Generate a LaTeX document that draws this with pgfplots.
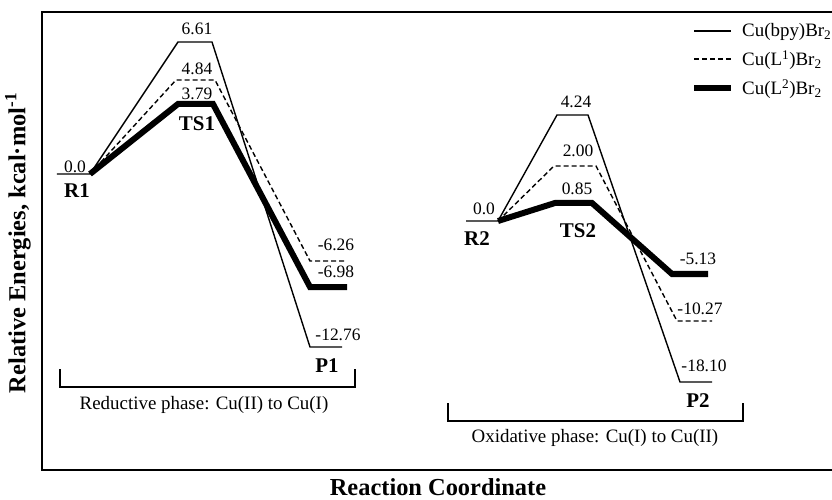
\documentclass[border=0pt]{standalone}
\usepackage{fontspec}
\setmainfont{Liberation Serif}
\usepackage{pgfplots}
\pgfplotsset{compat=1.18}
\newcommand{\numf}{\fontsize{17.5}{20}\selectfont}
\newcommand{\phf}{\fontsize{19}{22}\selectfont}
\newcommand{\legf}{\fontsize{19}{22}\selectfont}
\newcommand{\lblf}{\fontsize{21}{24}\selectfont\bfseries}
\newcommand{\axf}{\fontsize{24.5}{28}\selectfont\bfseries}
\begin{document}
\begin{tikzpicture}
\begin{axis}[
  scale only axis, width=790bp, height=458bp,
  xmin=0, xmax=790, ymin=0, ymax=458,
  axis line style={draw=none}, ticks=none, clip=false,
  legend style={at={(axis cs:649,446.5)}, anchor=north west, draw=none, fill=none,
    font=\legf, row sep=12.5bp, column sep=8bp, inner sep=0pt,
    nodes={inner sep=0bp}},
  legend cell align=left,
  legend image code/.code={\draw[#1] (0bp,0bp) -- (37bp,0bp);},
]
% Cu(bpy)Br2 (solid thin)
\addplot[black, line width=1.4bp] coordinates {(15,296) (48,296) (136,428) (170,428) (268,123) (300,123)};
\addlegendentry{Cu(bpy)Br\textsubscript{2}}
% Cu(L1)Br2 (dashed)
\addplot[black, line width=1.4bp, dash pattern=on 5bp off 3bp] coordinates {(48,296) (134,390) (173,390) (268,209) (303,209)};
\addlegendentry{Cu(L\textsuperscript{1})Br\textsubscript{2}}
% Cu(L2)Br2 (thick)
\addplot[black, line width=6bp] coordinates {(48,296) (136,366) (171,366) (268,183) (305,183)};
\addlegendentry{Cu(L\textsuperscript{2})Br\textsubscript{2}}
% right panel
\addplot[black, line width=1.4bp, forget plot] coordinates {(424,249) (456,249) (515,355) (546,355) (638,88) (670,88)};
\addplot[black, line width=1.4bp, dash pattern=on 5bp off 3bp, forget plot] coordinates {(456,249) (512,304) (554,304) (635,149) (670,149)};
\addplot[black, line width=6bp, forget plot] coordinates {(456,249) (513,267) (550,267) (630,196) (666,196)};

% frame
\draw[line width=2bp] (axis cs:790,458) -- (axis cs:0,458) -- (axis cs:0,0) -- (axis cs:790,0);
% brackets
\draw[line width=1.5bp] (axis cs:18,101) -- (axis cs:18,83) -- (axis cs:313,83) -- (axis cs:313,101);
\draw[line width=1.5bp] (axis cs:406,67) -- (axis cs:406,49) -- (axis cs:701,49) -- (axis cs:701,67);

% numbers
\node[anchor=base, inner sep=0pt, font=\numf] at (axis cs:33,297) {0.0};
\node[anchor=base, inner sep=0pt, font=\numf] at (axis cs:155,435) {6.61};
\node[anchor=base, inner sep=0pt, font=\numf] at (axis cs:155,395) {4.84};
\node[anchor=base, inner sep=0pt, font=\numf] at (axis cs:155,370) {3.79};
\node[anchor=base, inner sep=0pt, font=\numf] at (axis cs:294,219) {-6.26};
\node[anchor=base, inner sep=0pt, font=\numf] at (axis cs:294,193) {-6.98};
\node[anchor=base, inner sep=0pt, font=\numf] at (axis cs:296,130) {-12.76};
\node[anchor=base, inner sep=0pt, font=\numf] at (axis cs:442,255) {0.0};
\node[anchor=base, inner sep=0pt, font=\numf] at (axis cs:534,362) {4.24};
\node[anchor=base, inner sep=0pt, font=\numf] at (axis cs:536,313) {2.00};
\node[anchor=base, inner sep=0pt, font=\numf] at (axis cs:535,275) {0.85};
\node[anchor=base, inner sep=0pt, font=\numf] at (axis cs:656,206) {-5.13};
\node[anchor=base, inner sep=0pt, font=\numf] at (axis cs:658,156) {-10.27};
\node[anchor=base, inner sep=0pt, font=\numf] at (axis cs:662,99) {-18.10};
% state labels
\node[anchor=base, inner sep=0pt, font=\lblf] at (axis cs:35,272) {R1};
\node[anchor=base, inner sep=0pt, font=\lblf] at (axis cs:155,339) {TS1};
\node[anchor=base, inner sep=0pt, font=\lblf] at (axis cs:285,98) {P1};
\node[anchor=base, inner sep=0pt, font=\lblf] at (axis cs:435,224) {R2};
\node[anchor=base, inner sep=0pt, font=\lblf] at (axis cs:536,232) {TS2};
\node[anchor=base, inner sep=0pt, font=\lblf] at (axis cs:656,63) {P2};
% phase labels
\node[anchor=base, inner sep=0pt, font=\phf] at (axis cs:162,61) {Reductive phase: Cu(II) to Cu(I)};
\node[anchor=base, inner sep=0pt, font=\phf] at (axis cs:553,28) {Oxidative phase: Cu(I) to Cu(II)};
% axis labels
\node[anchor=base, inner sep=0pt, font=\axf] at (axis cs:396,-25) {Reaction Coordinate};
\node[anchor=center, inner sep=0pt, font=\axf, rotate=90] at (axis cs:-24,227) {Relative Energies, kcal·mol\textsuperscript{-1}};

\coordinate (BL) at (axis cs:-42,-29);
\coordinate (TR) at (axis cs:790,470);
\end{axis}
\pgfresetboundingbox
\useasboundingbox (BL) rectangle (TR);
\end{tikzpicture}
\end{document}
